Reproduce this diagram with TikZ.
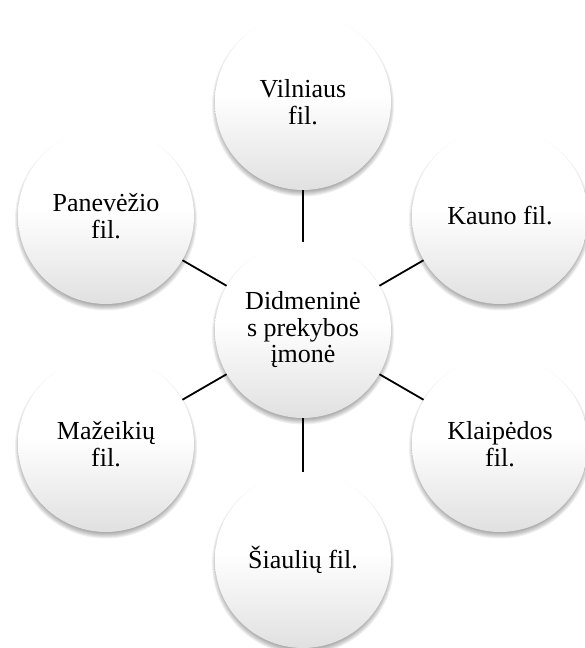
\documentclass[tikz,border=0pt]{standalone}
\usepackage{fontspec}
\setmainfont{Liberation Serif}
\pgfdeclarelayer{bg}
\pgfsetlayers{bg,main}
% white top half, soft grey towards the bottom
\pgfdeclareverticalshading{ballgrad}{100bp}{%
  color(0bp)=(black!12); color(25bp)=(black!12); color(52bp)=(white); color(100bp)=(white)}
\tikzset{
  branch/.style={circle, minimum size=176pt, inner sep=0pt, align=center,
    shading=ballgrad, font=\fontsize{26pt}{26.5pt}\selectfont, text=black},
  spoke/.style={draw=black, line width=1.8pt},
  shadowring/.style={fill=black, opacity=0.06}
}
\newcommand\softshadow[1]{%
  \foreach \k in {0,...,7}{%
    \fill[shadowring] ([yshift=-3.5pt]#1.center) circle[radius=84pt+\k pt];}}
\begin{document}
\begin{tikzpicture}[x=1pt,y=1pt]
\useasboundingbox (0,0) rectangle (585,648);
\node[branch] (hub) at (303,318) {Didmeninė\\s prekybos\\įmonė};
\node[branch] (vil) at (303,546) {Vilniaus\\fil.};
\node[branch] (kau) at (500,432) {Kauno fil.};
\node[branch] (kla) at (500,204) {Klaipėdos\\fil.};
\node[branch] (sia) at (303,88)  {Šiaulių fil.};
\node[branch] (maz) at (106,204) {Mažeikių\\fil.};
\node[branch] (pan) at (106,432) {Panevėžio\\fil.};
\begin{pgfonlayer}{bg}
  \foreach \n in {hub,vil,kau,kla,sia,maz,pan}{\softshadow{\n}}
  \foreach \n in {vil,kau,kla,sia,maz,pan}{\draw[spoke] (hub) -- (\n);}
\end{pgfonlayer}
\end{tikzpicture}
\end{document}
